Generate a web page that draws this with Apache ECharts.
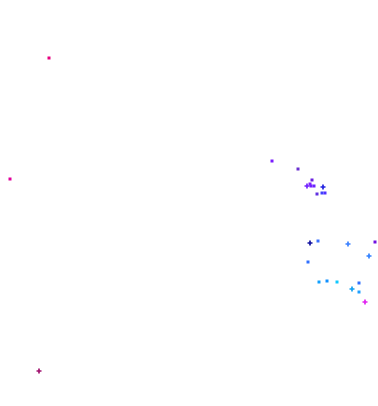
<!DOCTYPE html>
<html><head><meta charset="utf-8">
<script src="https://cdn.jsdelivr.net/npm/echarts@6/dist/echarts.min.js"></script>
<style>html,body{margin:0;padding:0;background:#fff}#c{width:378px;height:406px}</style>
</head><body><div id="c"></div>
<script>
var xs = [49, 10, 39, 272, 298, 312, 310, 307, 311, 314, 323, 317, 322, 325, 310, 318, 348, 375, 369, 308, 319, 327, 337, 359, 352, 359, 365];
var ys = [58, 179, 371, 161, 169, 180, 184, 186, 186, 186, 187, 194, 193, 193, 243, 241, 244, 242, 256, 262, 282, 281, 282, 283, 289, 292, 302];
var shapes = ['s','s','p','s','s','s','s','p','s','s','p','s','s','s','p','s','p','s','p','s','s','s','s','s','p','s','p'];
var colors = ['#e6007e','#e0009a','#a0106e','#7a1cff','#6a30d0','#6a20e0','#8020ff','#7020ff','#7020ff','#6a20ff','#2020e0','#6030e0','#4040ff','#5030ff','#1010a0','#3a70ff','#3a80ff','#7010e0','#3080ff','#3070ff','#10a0ff','#1090ff','#10c8ff','#3070ff','#10a0f0','#20a0ff','#e020f0'];
var plusPath = 'path://M2,0H4V2H6V4H4V6H2V4H0V2H2Z';
var data = xs.map(function(x,i){
  return {value:[x, ys[i]], symbol: shapes[i]==='p'?plusPath:'rect', symbolSize: shapes[i]==='p'?5:3, itemStyle:{color:colors[i], opacity:1}};
});
var chart = echarts.init(document.getElementById('c'));
chart.setOption({
  animation:false,
  grid:{left:0,right:0,top:0,bottom:0},
  xAxis:{type:'value',min:0,max:378,show:false},
  yAxis:{type:'value',min:0,max:406,inverse:true,show:false},
  series:[{type:'scatter',itemStyle:{opacity:1},data:data}]
});
</script></body></html>
